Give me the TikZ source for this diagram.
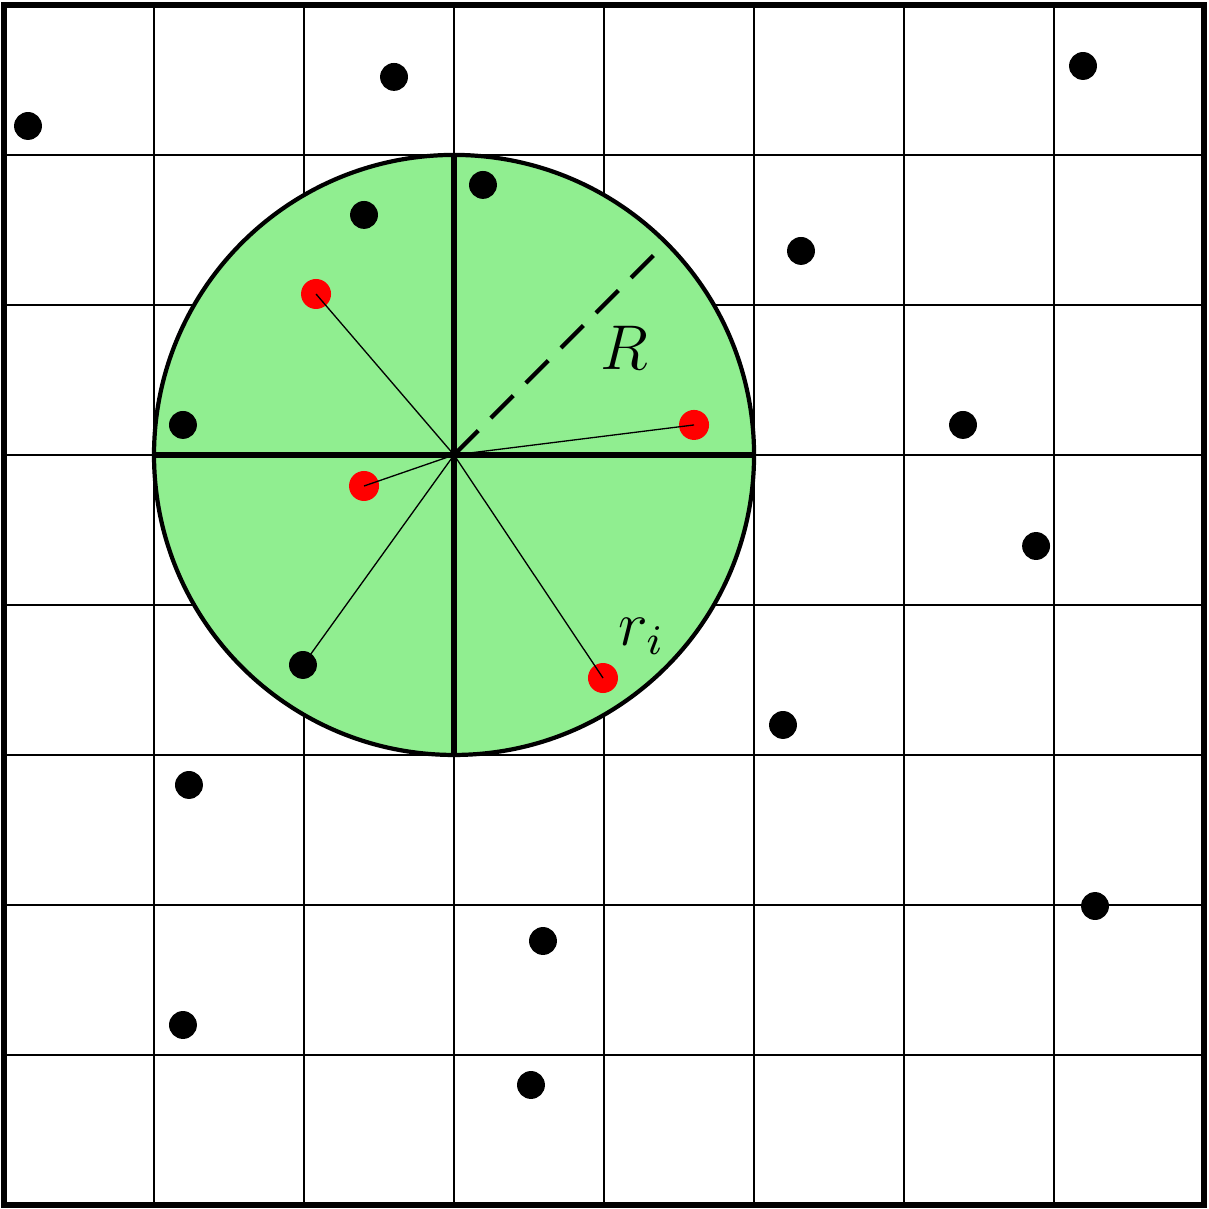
\documentclass[tikz,border=0pt]{standalone}
\usetikzlibrary{calc}
\definecolor{diskfill}{HTML}{90EE90}
\definecolor{hitred}{HTML}{FF0000}

\begin{document}
\begin{tikzpicture}[x=1cm, y=1cm,
    blackdot/.style={fill=black},
    reddot/.style={fill=hitred},
    every node/.style={font=\fontsize{12}{14}\selectfont}]
    \useasboundingbox (-0.0267,-0.0267) rectangle (8.033,8.033);
    % grid
    \draw[line width=0.25pt] (0,0) grid (8,8);
    % disk
    \coordinate (c) at (3,5);
    \fill[diskfill] (c) circle (2);
    \draw[line width=1.1pt] (1,5) -- (5,5);
    \draw[line width=1.1pt] (3,3) -- (3,7);
    \draw[line width=0.8pt] (c) circle (2);
    % particles outside / inside
    \foreach \px/\py in {0.16/7.193, 2.6/7.52, 7.193/7.593, 3.193/6.8, 2.4/6.6,
                         5.313/6.36, 1.193/5.2, 6.393/5.2, 6.88/4.393, 5.193/3.2,
                         1.233/2.8, 7.273/1.993, 3.593/1.76, 1.193/1.2, 3.513/0.8}
        \fill[blackdot] (\px,\py) circle (0.093);
    \coordinate (p1) at (2.08,6.073);
    \coordinate (p2) at (4.6,5.2);
    \coordinate (p3) at (2.4,4.793);
    \coordinate (p4) at (3.993,3.513);
    \coordinate (p5) at (1.993,3.6);
    \foreach \p in {p1,p2,p3,p4}
        \fill[reddot] (\p) circle (0.1);
    \fill[blackdot] (p5) circle (0.093);
    % distances r_i
    \foreach \p in {p1,p2,p3,p4,p5}
        \draw[line width=0.25pt] (c) -- (\p);
    % radius
    \coordinate (redge) at (4.333,6.333);
    \draw[line width=0.8pt, dash pattern=on 6pt off 3.4pt, dash phase=8.9pt] (c) -- (redge);
    \node (lblR) at (4.133,5.713) {$R$};
    \node (lblr) at (4.25,3.79) {$r_i$};
    % frame
    \draw[line width=1.15pt] (0,0) rectangle (8,8);
\end{tikzpicture}
\end{document}
